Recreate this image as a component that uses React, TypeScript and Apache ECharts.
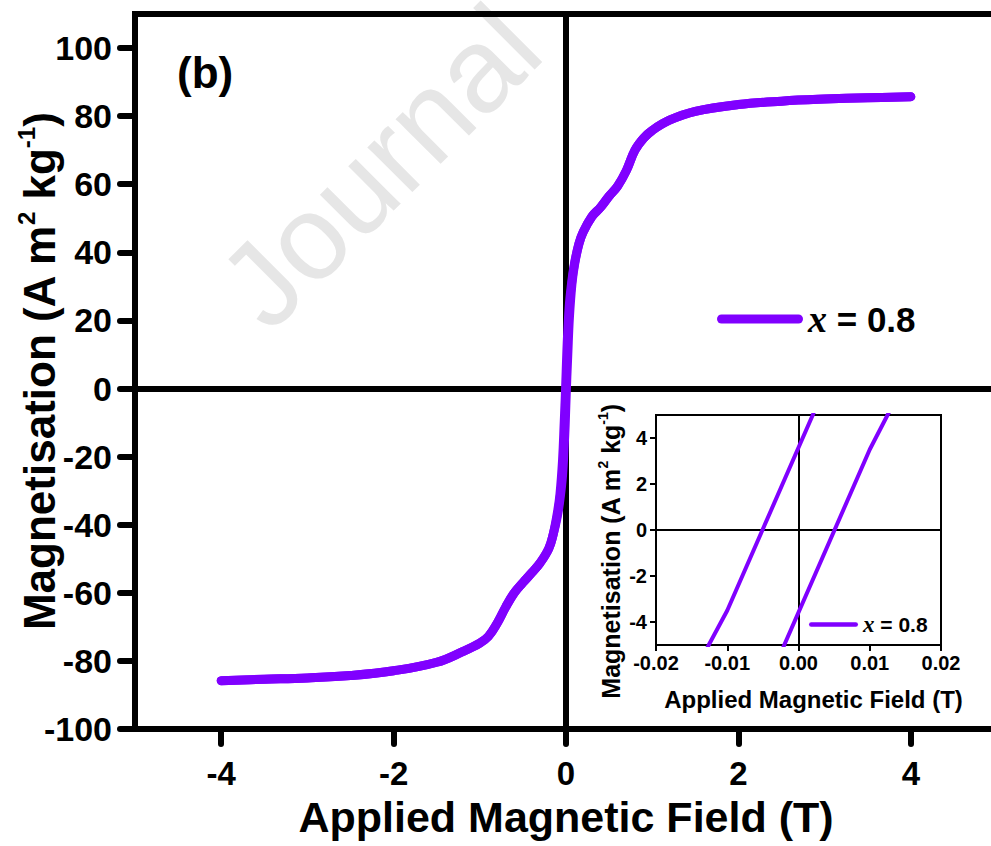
import React, { useEffect, useRef } from "react";
import * as echarts from "echarts";

// Sample label
const SAMPLE = "x = 0.8";

// Descending branch of the M–H loop: field swept from +4 T to -4 T
const descField = [
  4, 3.5, 3, 2.5, 2, 1.5, 1.2, 1.0, 0.9, 0.8, 0.7, 0.6, 0.5, 0.4, 0.3, 0.2, 0.15, 0.1, 0.07, 0.04,
  0.02, 0.01, 0.002, -0.01, -0.0126, -0.02, -0.04, -0.07, -0.1, -0.15, -0.2, -0.3, -0.4, -0.5, -0.6,
  -0.7, -0.8, -0.9, -1.0, -1.2, -1.5, -2, -2.5, -3, -3.5, -4,
];
const descMoment = [
  85.7, 85.4, 85.0, 84.4, 83.4, 81.4, 78.8, 75.8, 73.5, 70.0, 64.0, 59.5, 56.5, 53.2, 50.5, 46.0, 42.5, 37.0, 32.0, 25.0,
  16.5, 11.0, 5.0, -3.5, -5.0, -9.5, -21.0, -31.0, -36.5, -43.0, -47.0, -51.2, -54.2, -57.0, -60.0,
  -64.2, -69.0, -72.8, -74.8, -77.3, -80.4, -82.9, -84.3, -85.0, -85.4, -85.8,
];

// Ascending branch: field swept from -4 T back to +4 T
const ascField = [
  -4, -3.5, -3, -2.5, -2, -1.5, -1.2, -1.0, -0.9, -0.8, -0.7, -0.6, -0.5, -0.4, -0.3, -0.2, -0.15, -0.1, -0.07, -0.04,
  -0.02, -0.01, -0.002, 0.01, 0.0125, 0.02, 0.04, 0.07, 0.1, 0.15, 0.2, 0.3, 0.4, 0.5, 0.6,
  0.7, 0.8, 0.9, 1.0, 1.2, 1.5, 2, 2.5, 3, 3.5, 4,
];
const ascMoment = [
  -85.8, -85.4, -85.0, -84.3, -82.9, -80.4, -77.3, -74.8, -72.8, -69.0, -64.2, -60.0, -57.0, -54.2, -51.2, -47.0, -43.0, -37.5, -32.5, -25.5,
  -16.5, -11.0, -5.0, 3.5, 5.0, 9.5, 21.0, 31.0, 36.5, 42.5, 46.0, 50.5, 53.2, 56.5, 59.5,
  64.0, 70.0, 73.5, 75.8, 78.8, 81.4, 83.4, 84.4, 85.0, 85.4, 85.7,
];

// Tick positions
const mainFieldTicks = [-4, -2, 0, 2, 4];
const mainMomentTicks = [-100, -80, -60, -40, -20, 0, 20, 40, 60, 80, 100];
const insetFieldTicks = [-0.02, -0.01, 0, 0.01, 0.02];
const insetMomentTicks = [-4, -2, 0, 2, 4];

const FONT = '"Liberation Sans", Arial, sans-serif';
const SERIF = '"Liberation Serif", "Times New Roman", serif';
const PURPLE = "#8000ff";
const BLACK = "#000";

const toPoints = (xs: number[], ys: number[]) => xs.map((x, i) => [x, ys[i]]);

const legendLabel = (name: string) => `{i|${name.charAt(0)}}${name.slice(1)}`;

const zeroLines = (width: number) => ({
  silent: true,
  symbol: ["none", "none"],
  label: { show: false },
  emphasis: { disabled: true },
  lineStyle: { color: BLACK, width, type: "solid" },
  data: [{ xAxis: 0 }, { yAxis: 0 }],
});

const boldText = (size: number) => ({
  fontSize: size,
  fontWeight: "bold",
  fontFamily: FONT,
  color: BLACK,
});

function buildOption() {
  return {
    animation: false,
    backgroundColor: "#ffffff",
    graphic: [
      {
        type: "text",
        z: -10,
        x: 240,
        y: 305,
        rotation: Math.PI / 4,
        style: {
          text: "Journal",
          fontSize: 120,
          fontFamily: FONT,
          fill: "#e6e6e6",
          align: "left",
          verticalAlign: "middle",
        },
      },
      {
        type: "text",
        x: 177,
        y: 72,
        style: {
          text: "(b)",
          fontSize: 44,
          fontWeight: "bold",
          fontFamily: FONT,
          fill: BLACK,
          align: "left",
          verticalAlign: "middle",
        },
      },
    ],
    grid: [
      {
        left: 135,
        right: -6,
        top: 14,
        bottom: 117,
        show: true,
        borderColor: BLACK,
        borderWidth: 6,
        outerBoundsMode: "none",
        containLabel: false,
      },
      {
        left: 656,
        right: 50,
        top: 415,
        bottom: 201,
        show: true,
        borderColor: BLACK,
        borderWidth: 2,
        outerBoundsMode: "none",
        containLabel: false,
      },
    ],
    legend: [
      {
        data: [SAMPLE],
        left: 717,
        top: 300,
        padding: 0,
        itemWidth: 86,
        itemHeight: 9,
        selectedMode: false,
        icon: "path://M4.5 0H81.5A4.5 4.5 0 0 1 81.5 9H4.5A4.5 4.5 0 0 1 4.5 0Z",
        itemStyle: { color: PURPLE, borderWidth: 0 },
        formatter: legendLabel,
        textStyle: {
          ...boldText(35),
          rich: { i: { fontFamily: SERIF, fontStyle: "italic", fontWeight: "bold", fontSize: 38, color: BLACK } },
        },
      },
      {
        data: [SAMPLE],
        left: 809,
        top: 613,
        padding: 0,
        itemWidth: 49,
        itemHeight: 4.5,
        selectedMode: false,
        icon: "path://M2.25 0H46.75A2.25 2.25 0 0 1 46.75 4.5H2.25A2.25 2.25 0 0 1 2.25 0Z",
        itemStyle: { color: PURPLE, borderWidth: 0 },
        formatter: legendLabel,
        textStyle: {
          ...boldText(21),
          rich: { i: { fontFamily: SERIF, fontStyle: "italic", fontWeight: "bold", fontSize: 23, color: BLACK } },
        },
      },
    ],
    xAxis: [
      {
        gridIndex: 0,
        type: "value",
        min: -5,
        max: 5,
        splitLine: { show: false },
        axisLine: { show: true, onZero: false, lineStyle: { color: BLACK, width: 6 } },
        axisTick: {
          show: true,
          inside: false,
          length: 15,
          customValues: mainFieldTicks,
          lineStyle: { color: BLACK, width: 6, cap: "round" },
        },
        axisLabel: { customValues: mainFieldTicks, margin: 28, ...boldText(33) },
        name: "Applied Magnetic Field (T)",
        nameLocation: "middle",
        nameGap: 66,
        nameTextStyle: boldText(43),
      },
      {
        gridIndex: 1,
        type: "value",
        min: -0.02,
        max: 0.02,
        splitLine: { show: false },
        axisLine: { show: true, onZero: false, lineStyle: { color: BLACK, width: 2 } },
        axisTick: {
          show: true,
          inside: false,
          length: 6,
          customValues: insetFieldTicks,
          lineStyle: { color: BLACK, width: 2 },
        },
        axisLabel: {
          customValues: insetFieldTicks,
          margin: 8,
          formatter: (v: number) => v.toFixed(2),
          ...boldText(20),
        },
        name: "Applied Magnetic Field (T)",
        nameLocation: "middle",
        nameGap: 42,
        nameTextStyle: { ...boldText(24), padding: [0, 0, 0, 30] },
      },
    ],
    yAxis: [
      {
        gridIndex: 0,
        type: "value",
        min: -100,
        max: 110,
        splitLine: { show: false },
        axisLine: { show: true, onZero: false, lineStyle: { color: BLACK, width: 6 } },
        axisTick: {
          show: true,
          inside: false,
          length: 15,
          customValues: mainMomentTicks,
          lineStyle: { color: BLACK, width: 6, cap: "round" },
        },
        axisLabel: { customValues: mainMomentTicks, margin: 23, ...boldText(34) },
        name: "Magnetisation (A m{sup|2} kg{sup|-1})",
        nameLocation: "middle",
        nameRotate: 90,
        nameGap: 71,
        nameMoveOverlap: false,
        nameTextStyle: {
          ...boldText(44),
          lineHeight: 50,
          rich: { sup: { ...boldText(24), verticalAlign: "top", lineHeight: 24 } },
        },
      },
      {
        gridIndex: 1,
        type: "value",
        min: -5,
        max: 5,
        splitLine: { show: false },
        axisLine: { show: true, onZero: false, lineStyle: { color: BLACK, width: 2 } },
        axisTick: {
          show: true,
          inside: false,
          length: 6,
          customValues: insetMomentTicks,
          lineStyle: { color: BLACK, width: 2 },
        },
        axisLabel: { customValues: insetMomentTicks, margin: 9, ...boldText(20) },
        name: "Magnetisation (A m{sup|2} kg{sup|-1})",
        nameLocation: "middle",
        nameRotate: 90,
        nameGap: 23,
        nameTextStyle: {
          ...boldText(25),
          lineHeight: 29,
          padding: [0, 43, 0, 0],
          rich: { sup: { ...boldText(14), verticalAlign: "top", lineHeight: 14 } },
        },
      },
    ],
    series: [
      {
        name: SAMPLE,
        type: "line",
        xAxisIndex: 0,
        yAxisIndex: 0,
        data: toPoints(descField, descMoment),
        symbol: "none",
        showSymbol: false,
        smooth: 0.4,
        z: 10,
        lineStyle: { color: PURPLE, width: 9, cap: "round", join: "round" },
        itemStyle: { color: PURPLE },
        markLine: zeroLines(6),
      },
      {
        name: SAMPLE,
        type: "line",
        xAxisIndex: 0,
        yAxisIndex: 0,
        data: toPoints(ascField, ascMoment),
        symbol: "none",
        showSymbol: false,
        smooth: 0.4,
        z: 10,
        lineStyle: { color: PURPLE, width: 9, cap: "round", join: "round" },
        itemStyle: { color: PURPLE },
      },
      {
        name: SAMPLE,
        type: "line",
        xAxisIndex: 1,
        yAxisIndex: 1,
        data: toPoints(descField, descMoment),
        symbol: "none",
        showSymbol: false,
        clip: true,
        z: 10,
        lineStyle: { color: PURPLE, width: 4, join: "round" },
        itemStyle: { color: PURPLE },
        markLine: zeroLines(2),
      },
      {
        name: SAMPLE,
        type: "line",
        xAxisIndex: 1,
        yAxisIndex: 1,
        data: toPoints(ascField, ascMoment),
        symbol: "none",
        showSymbol: false,
        clip: true,
        z: 10,
        lineStyle: { color: PURPLE, width: 4, join: "round" },
        itemStyle: { color: PURPLE },
      },
    ],
  };
}

export default function App() {
  const ref = useRef<HTMLDivElement>(null);

  useEffect(() => {
    if (!ref.current) return;
    const chart = echarts.init(ref.current, null, { renderer: "svg" });
    chart.setOption(buildOption() as any);
    return () => chart.dispose();
  }, []);

  return (
    <div
      ref={ref}
      style={{ position: "absolute", left: 0, top: 0, width: 991, height: 846, background: "#fff" }}
    />
  );
}
